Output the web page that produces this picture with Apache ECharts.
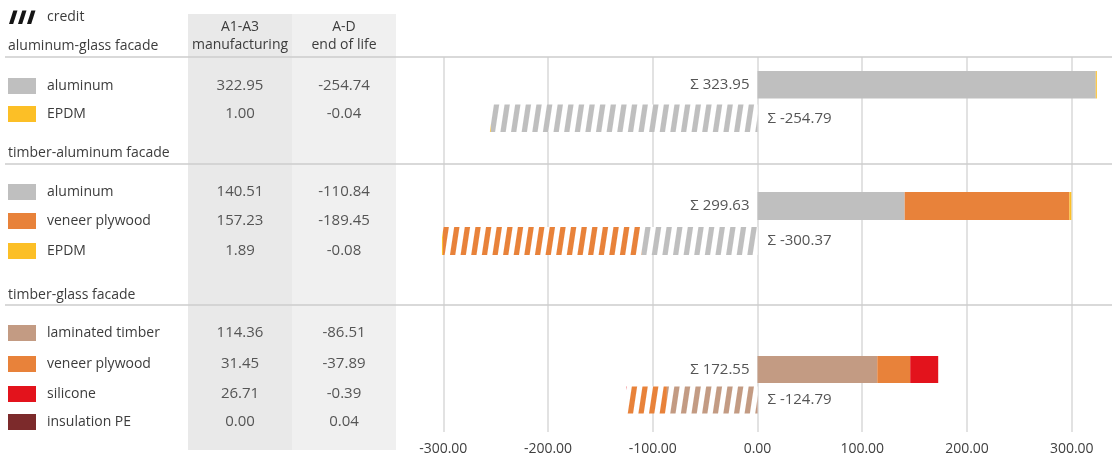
<!DOCTYPE html>
<html>
<head>
<meta charset="utf-8">
<script src="https://cdn.jsdelivr.net/npm/echarts@6/dist/echarts.min.js"></script>
<style>
  html, body { margin: 0; padding: 0; background: #ffffff; }
  #chart { width: 1112px; height: 459px; }
</style>
</head>
<body>
<div id="chart"></div>
<script>
// ---- data ----
const facades = ['aluminum-glass facade', 'timber-aluminum facade', 'timber-glass facade'];
const materials = [
  ['aluminum', 'EPDM'],
  ['aluminum', 'veneer plywood', 'EPDM'],
  ['laminated timber', 'veneer plywood', 'silicone', 'insulation PE']
];
// A1-A3 manufacturing
const manufacturing = [
  [322.95, 1.00],
  [140.51, 157.23, 1.89],
  [114.36, 31.45, 26.71, 0.00]
];
// A-D end of life (credit)
const endOfLife = [
  [-254.74, -0.04],
  [-110.84, -189.45, -0.08],
  [-86.51, -37.89, -0.39, 0.04]
];
const totalManufacturing = [323.95, 299.63, 172.55];
const totalEndOfLife = [-254.79, -300.37, -124.79];
const columnHeaders = [['A1-A3', 'manufacturing'], ['A-D', 'end of life']];
const axisTicks = [-300, -200, -100, 0, 100, 200, 300];

// ---- styles ----
const materialColors = {
  'aluminum': '#bfbfbf',
  'EPDM': '#fcbf26',
  'veneer plywood': '#e8823a',
  'laminated timber': '#c39b83',
  'silicone': '#e3131c',
  'insulation PE': '#7c2a2b'
};
const FONT = '"Open Sans", "Noto Sans", sans-serif';
const TEXT = '#3c3c3c';
const NUM = '#555555';

// layout (pixels)
const xMin = -335, xMax = 335;
const gridLeft = 406.6, gridRight = 3.6;
const sectionTitleY = [46, 153, 295];
const sectionLineY = [57, 164, 305];
const rowY = [[86, 114], [192, 221, 251], [333, 364, 394, 422]];
const barBlock = [ // top, barWidth, gap
  [71, 27.5, 6],
  [192, 28, 7],
  [356, 27, 3.5]
];
const colCenters = [240, 344];

function stripePattern(color) {
  const c = document.createElement('canvas');
  c.width = 10; c.height = 10;
  const g = c.getContext('2d');
  g.fillStyle = '#ffffff';
  g.fillRect(0, 0, 10, 10);
  g.fillStyle = color;
  g.fillRect(0, 0, 5, 10);
  return { image: c, repeat: 'repeat', rotation: 0.15, scaleX: 1.05 };
}

const chart = echarts.init(document.getElementById('chart'), null, { renderer: 'canvas' });

const grids = [{ left: gridLeft, right: gridRight, top: 57, height: 375 }];
const xAxes = [{
  gridIndex: 0, type: 'value', min: xMin, max: xMax,
  axisLine: { show: false },
  axisTick: { show: false, customValues: axisTicks },
  axisLabel: {
    customValues: axisTicks, margin: 10,
    formatter: v => v.toFixed(2),
    color: '#404040', fontSize: 14, fontFamily: FONT
  },
  splitLine: { show: true, lineStyle: { color: '#d9d9d9', width: 1.5 } }
}];
const yAxes = [{ gridIndex: 0, type: 'value', show: false, min: 0, max: 1, splitLine: { show: false } }];
const series = [];

facades.forEach((f, s) => {
  const [top, bw, gap] = barBlock[s];
  const gi = s + 1;
  grids.push({ left: gridLeft, right: gridRight, top: top, height: bw * 2 + gap });
  xAxes.push({ gridIndex: gi, type: 'value', min: xMin, max: xMax, show: false, splitLine: { show: false } });
  yAxes.push({ gridIndex: gi, type: 'category', data: [f], inverse: true, show: false });
  materials[s].forEach((m, i) => {
    series.push({
      type: 'bar', name: m, xAxisIndex: gi, yAxisIndex: gi,
      stack: 'm' + s, barWidth: bw, barGap: (gap / bw * 100) + '%',
      barMinHeight: m === 'insulation PE' ? 0 : 1,
      itemStyle: { color: materialColors[m] },
      data: [manufacturing[s][i]],
      label: i === 0 ? {
        show: true, position: 'left', distance: 8,
        formatter: () => 'Σ ' + totalManufacturing[s].toFixed(2),
        color: NUM, fontSize: 15, fontFamily: FONT
      } : { show: false },
      silent: true
    });
  });
  materials[s].forEach((m, i) => {
    series.push({
      type: 'bar', name: m, xAxisIndex: gi, yAxisIndex: gi,
      stack: 'e' + s, barWidth: bw, barGap: (gap / bw * 100) + '%',
      barMinHeight: m === 'insulation PE' ? 0 : 1,
      itemStyle: { color: stripePattern(materialColors[m]) },
      data: [endOfLife[s][i]],
      label: i === 0 ? {
        show: true, position: 'right', distance: 10,
        formatter: () => 'Σ ' + totalEndOfLife[s].toFixed(2),
        color: NUM, fontSize: 15, fontFamily: FONT
      } : { show: false },
      silent: true
    });
  });
});

// ---- table on the left ----
const graphic = [];
// column backgrounds
graphic.push({ type: 'rect', shape: { x: 188, y: 14, width: 104, height: 436 }, style: { fill: '#e9e9e9' }, z: -10 });
graphic.push({ type: 'rect', shape: { x: 292, y: 14, width: 104, height: 436 }, style: { fill: '#f0f0f0' }, z: -10 });
// credit key
for (let k = 0; k < 3; k++) {
  const x0 = 9 + k * 9;
  graphic.push({ type: 'polygon', shape: { points: [[x0, 24], [x0 + 4.2, 24], [x0 + 8.5, 10.5], [x0 + 4.3, 10.5]] }, style: { fill: '#151515' } });
}
graphic.push({ type: 'text', x: 47, y: 17, style: { text: 'credit', font: '14px ' + FONT, fill: TEXT, verticalAlign: 'middle' } });
// column headers
columnHeaders.forEach((h, c) => {
  h.forEach((t, j) => {
    graphic.push({ type: 'text', x: colCenters[c], y: 27 + j * 18, style: { text: t, font: '14px ' + FONT, fill: TEXT, align: 'center', verticalAlign: 'middle' } });
  });
});
facades.forEach((f, s) => {
  graphic.push({ type: 'text', x: 8, y: sectionTitleY[s], style: { text: f, font: '14px ' + FONT, fill: TEXT, verticalAlign: 'middle' } });
  graphic.push({ type: 'line', shape: { x1: 5, y1: sectionLineY[s], x2: 1112, y2: sectionLineY[s] }, style: { stroke: '#cdcdcd', lineWidth: 1.5 }, z: 5 });
  materials[s].forEach((m, i) => {
    const y = rowY[s][i];
    graphic.push({ type: 'rect', shape: { x: 8, y: y - 8, width: 28, height: 16 }, style: { fill: materialColors[m] } });
    graphic.push({ type: 'text', x: 47, y: y, style: { text: m, font: '14px ' + FONT, fill: TEXT, verticalAlign: 'middle' } });
    graphic.push({ type: 'text', x: colCenters[0], y: y, style: { text: manufacturing[s][i].toFixed(2), font: '15px ' + FONT, fill: NUM, align: 'center', verticalAlign: 'middle' } });
    graphic.push({ type: 'text', x: colCenters[1], y: y, style: { text: endOfLife[s][i].toFixed(2), font: '15px ' + FONT, fill: NUM, align: 'center', verticalAlign: 'middle' } });
  });
});

chart.setOption({
  backgroundColor: '#ffffff',
  animation: false,
  grid: grids,
  xAxis: xAxes,
  yAxis: yAxes,
  series: series,
  graphic: graphic
});
</script>
</body>
</html>
